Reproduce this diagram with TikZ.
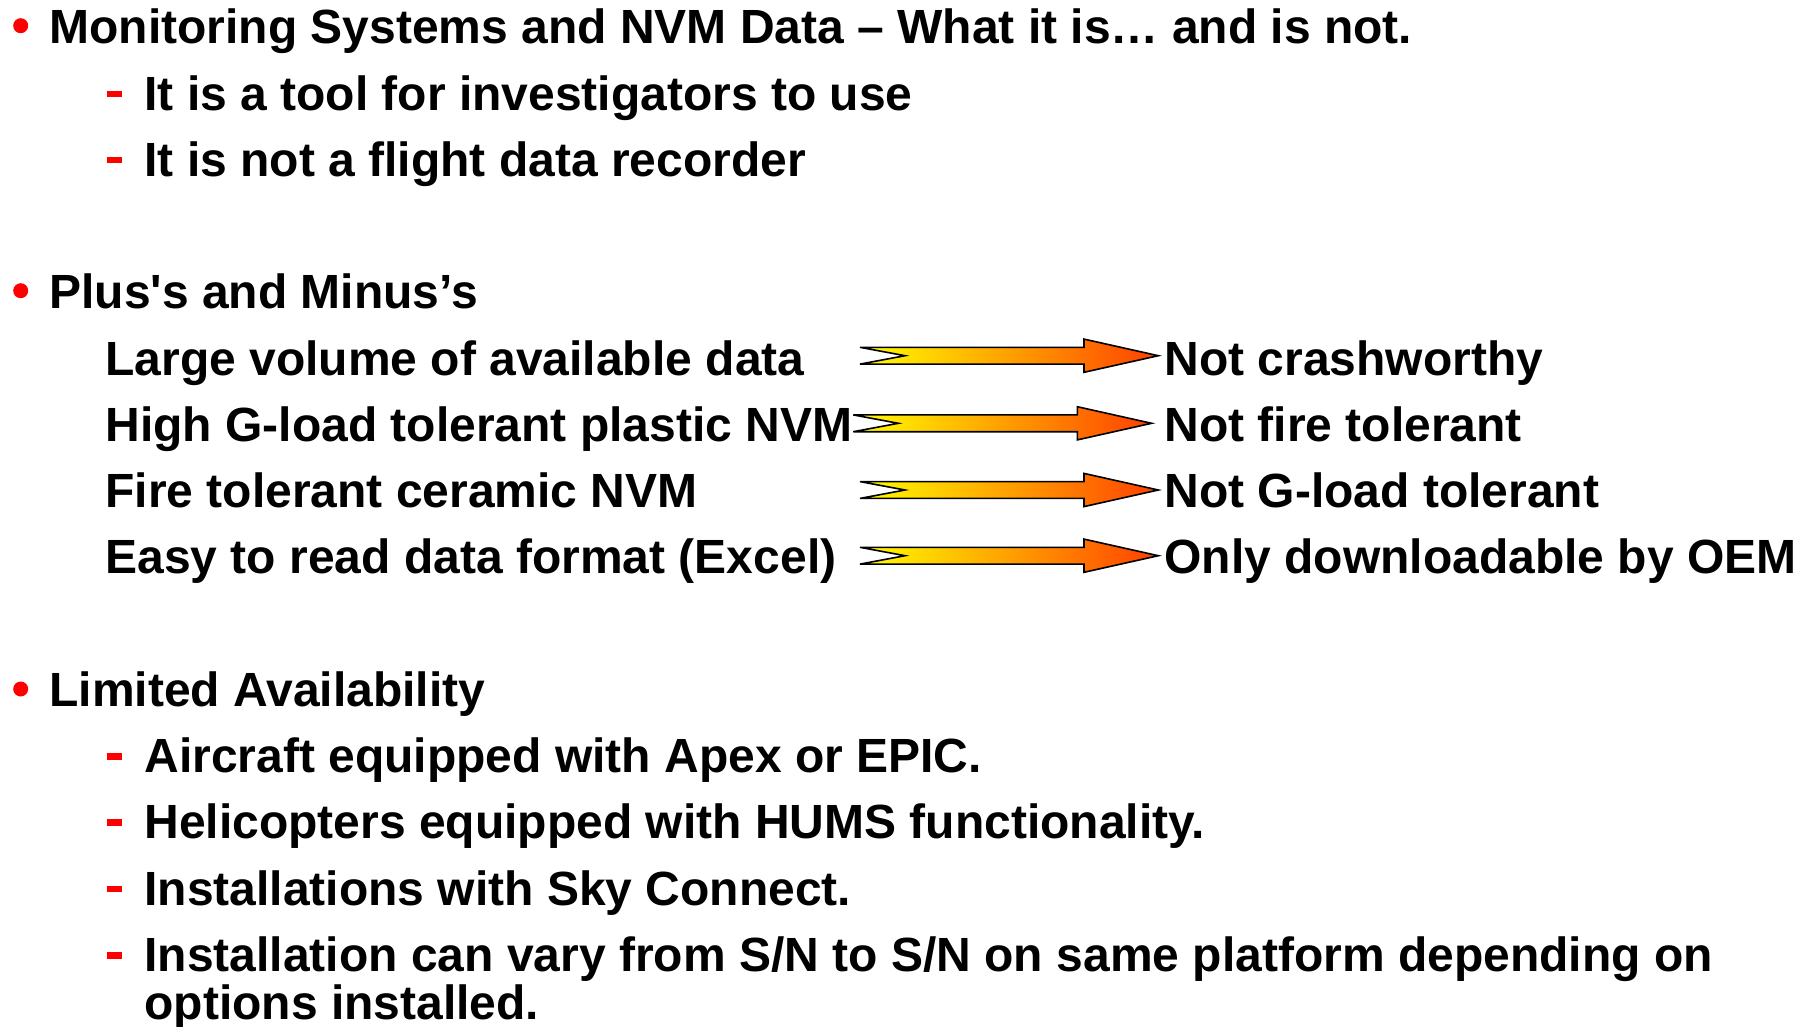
\documentclass[tikz,border=0pt]{standalone}
\usepackage{fontspec}
\newfontfamily\bodyfont{Liberation Sans Bold}
\usetikzlibrary{calc}
\definecolor{bulletred}{RGB}{255,0,0}
\definecolor{arrowyellow}{RGB}{255,255,0}
\definecolor{arrowmid}{RGB}{255,200,0}
\definecolor{arrowred}{RGB}{255,64,0}
\tikzset{
  txt/.style={anchor=base west, inner sep=0pt, outer sep=0pt, font=\bodyfont\fontsize{48pt}{48pt}\selectfont},
  bulletdot/.style={fill=bulletred, draw=none},
  dashmark/.style={fill=bulletred, draw=none},
  gradarrow/.style={left color=arrowyellow, middle color=arrowmid, right color=arrowred, draw=black, line width=1.6pt, line join=miter},
}
% #1 name, #2 tail x, #3 centre y
\newcommand\fatarrow[3]{%
  \coordinate (#1-s) at (#2,#3);
  \coordinate (#1-e) at (#2+298.3,#3);
  \draw[gradarrow] (#2,#3-8.4) -- (#2+45,#3) -- (#2,#3+8.4) -- (#2+224,#3+8.4)
     -- (#2+224,#3+16.6) -- (#1-e) -- (#2+224,#3-16.6) -- (#2+224,#3-8.4) -- cycle;
}
\newcommand\dashat[2]{\fill[dashmark] (107,#2-19.3) rectangle (122,#2-12.8);}
\begin{document}
\begin{tikzpicture}[x=1pt,y=-1pt]
\useasboundingbox (0,0) rectangle (1816,1026);
% section 1
\fill[bulletdot] (20.7,25.7) circle (7.5);
\node[txt] (t1) at (49.5,43.3) {Monitoring Systems and NVM Data – What it is… and is not.};
\dashat{d1}{110}
\node[txt] (t2) at (144.5,110) {It is a tool for investigators to use};
\dashat{d2}{176}
\node[txt] (t3) at (144.5,176) {It is not a flight data recorder};
% section 2
\fill[bulletdot] (20.7,290.7) circle (7.5);
\node[txt] (t4) at (49.5,308.3) {Plus's and Minus’s};
\node[txt] (p1) at (105.5,375) {Large volume of available data};
\node[txt] (p2) at (105.5,441.7) {High G-load tolerant plastic NVM};
\node[txt] (p3) at (105.5,507.3) {Fire tolerant ceramic NVM};
\node[txt] (p4) at (105.5,573.3) {Easy to read data format (Excel)};
\node[txt] (m1) at (1164.5,375) {Not crashworthy};
\node[txt] (m2) at (1164.5,441.7) {Not fire tolerant};
\node[txt] (m3) at (1164.5,507.3) {Not G-load tolerant};
\node[txt] (m4) at (1164.5,573.3) {Only downloadable by OEM};
\fatarrow{a1}{860}{355.7}
\fatarrow{a2}{853.3}{423.3}
\fatarrow{a3}{860}{490}
\fatarrow{a4}{860}{555.7}
% section 3
\fill[bulletdot] (20.7,689) circle (7.5);
\node[txt] (t5) at (49.5,706.7) {Limited Availability};
\dashat{d3}{772.7}
\node[txt] (s1) at (144.5,772.7) {Aircraft equipped with Apex or EPIC.};
\dashat{d4}{838.3}
\node[txt] (s2) at (144.5,838.3) {Helicopters equipped with HUMS functionality.};
\dashat{d5}{905}
\node[txt] (s3) at (144.5,905) {Installations with Sky Connect.};
\dashat{d6}{971.7}
\node[txt] (s4) at (144.5,971.7) {Installation can vary from S/N to S/N on same platform depending on};
\node[txt] (s5) at (144.5,1019) {options installed.};
\end{tikzpicture}
\end{document}
